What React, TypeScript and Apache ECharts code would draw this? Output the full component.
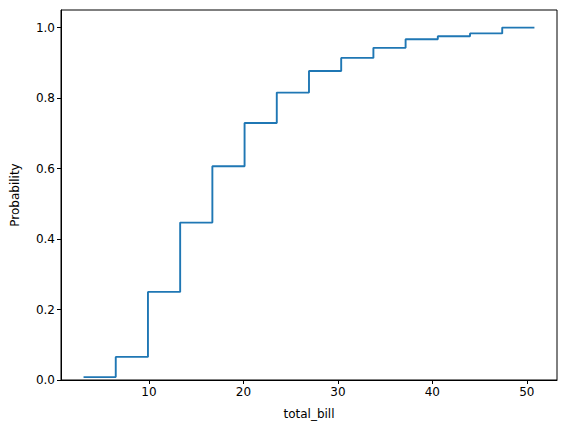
import React, { useEffect, useRef } from "react";
import * as echarts from "echarts";

const binEdges = [3.07, 6.48, 9.89, 13.3, 16.71, 20.12, 23.53, 26.94, 30.35, 33.76, 37.17, 40.58, 43.99, 47.4, 50.81];
const cumProb = [0.0082, 0.0656, 0.25, 0.4467, 0.6066, 0.7295, 0.8156, 0.877, 0.914, 0.9426, 0.9672, 0.9754, 0.9836, 1.0];
const xTicks = [10, 20, 30, 40, 50];

export default function App() {
  const ref = useRef<HTMLDivElement>(null);
  useEffect(() => {
    if (!ref.current) return;
    const chart = echarts.init(ref.current, null, { renderer: "svg" });
    const data: number[][] = cumProb.map((v, i) => [binEdges[i], v]);
    data.push([binEdges[binEdges.length - 1], cumProb[cumProb.length - 1]]);
    const font = "DejaVu Sans";
    chart.setOption({
      animation: false,
      grid: { left: 61, right: 10, top: 10, bottom: 53, show: true, borderColor: "#000", borderWidth: 1, backgroundColor: "transparent" },
      xAxis: {
        type: "value",
        min: 0.683,
        max: 53.2,
        name: "total_bill",
        nameLocation: "middle",
        nameGap: 28,
        nameTextStyle: { fontFamily: font, fontSize: 12, color: "#000" },
        axisLine: { show: true, lineStyle: { color: "#000", width: 1 } },
        axisTick: { show: true, inside: false, length: 4, customValues: xTicks, lineStyle: { color: "#000" } },
        axisLabel: { customValues: xTicks, fontFamily: font, fontSize: 12, color: "#000", margin: 6 },
        splitLine: { show: false },
      },
      yAxis: {
        type: "value",
        min: 0,
        max: 1.05,
        interval: 0.2,
        name: "Probability",
        nameLocation: "middle",
        nameGap: 40,
        nameTextStyle: { fontFamily: font, fontSize: 12, color: "#000" },
        axisLine: { show: true, lineStyle: { color: "#000", width: 1 } },
        axisTick: { show: true, inside: false, length: 4, lineStyle: { color: "#000" } },
        axisLabel: { fontFamily: font, fontSize: 12, color: "#000", margin: 6, formatter: (v: number) => v.toFixed(1), showMaxLabel: false },
        splitLine: { show: false },
      },
      series: [
        {
          type: "line",
          step: "end",
          data,
          showSymbol: false,
          lineStyle: { color: "#1f77b4", width: 1.9 },
        },
      ],
    });
    return () => chart.dispose();
  }, []);
  return <div ref={ref} style={{ position: "fixed", left: 0, top: 0, width: 567, height: 433, background: "#fff" }} />;
}
